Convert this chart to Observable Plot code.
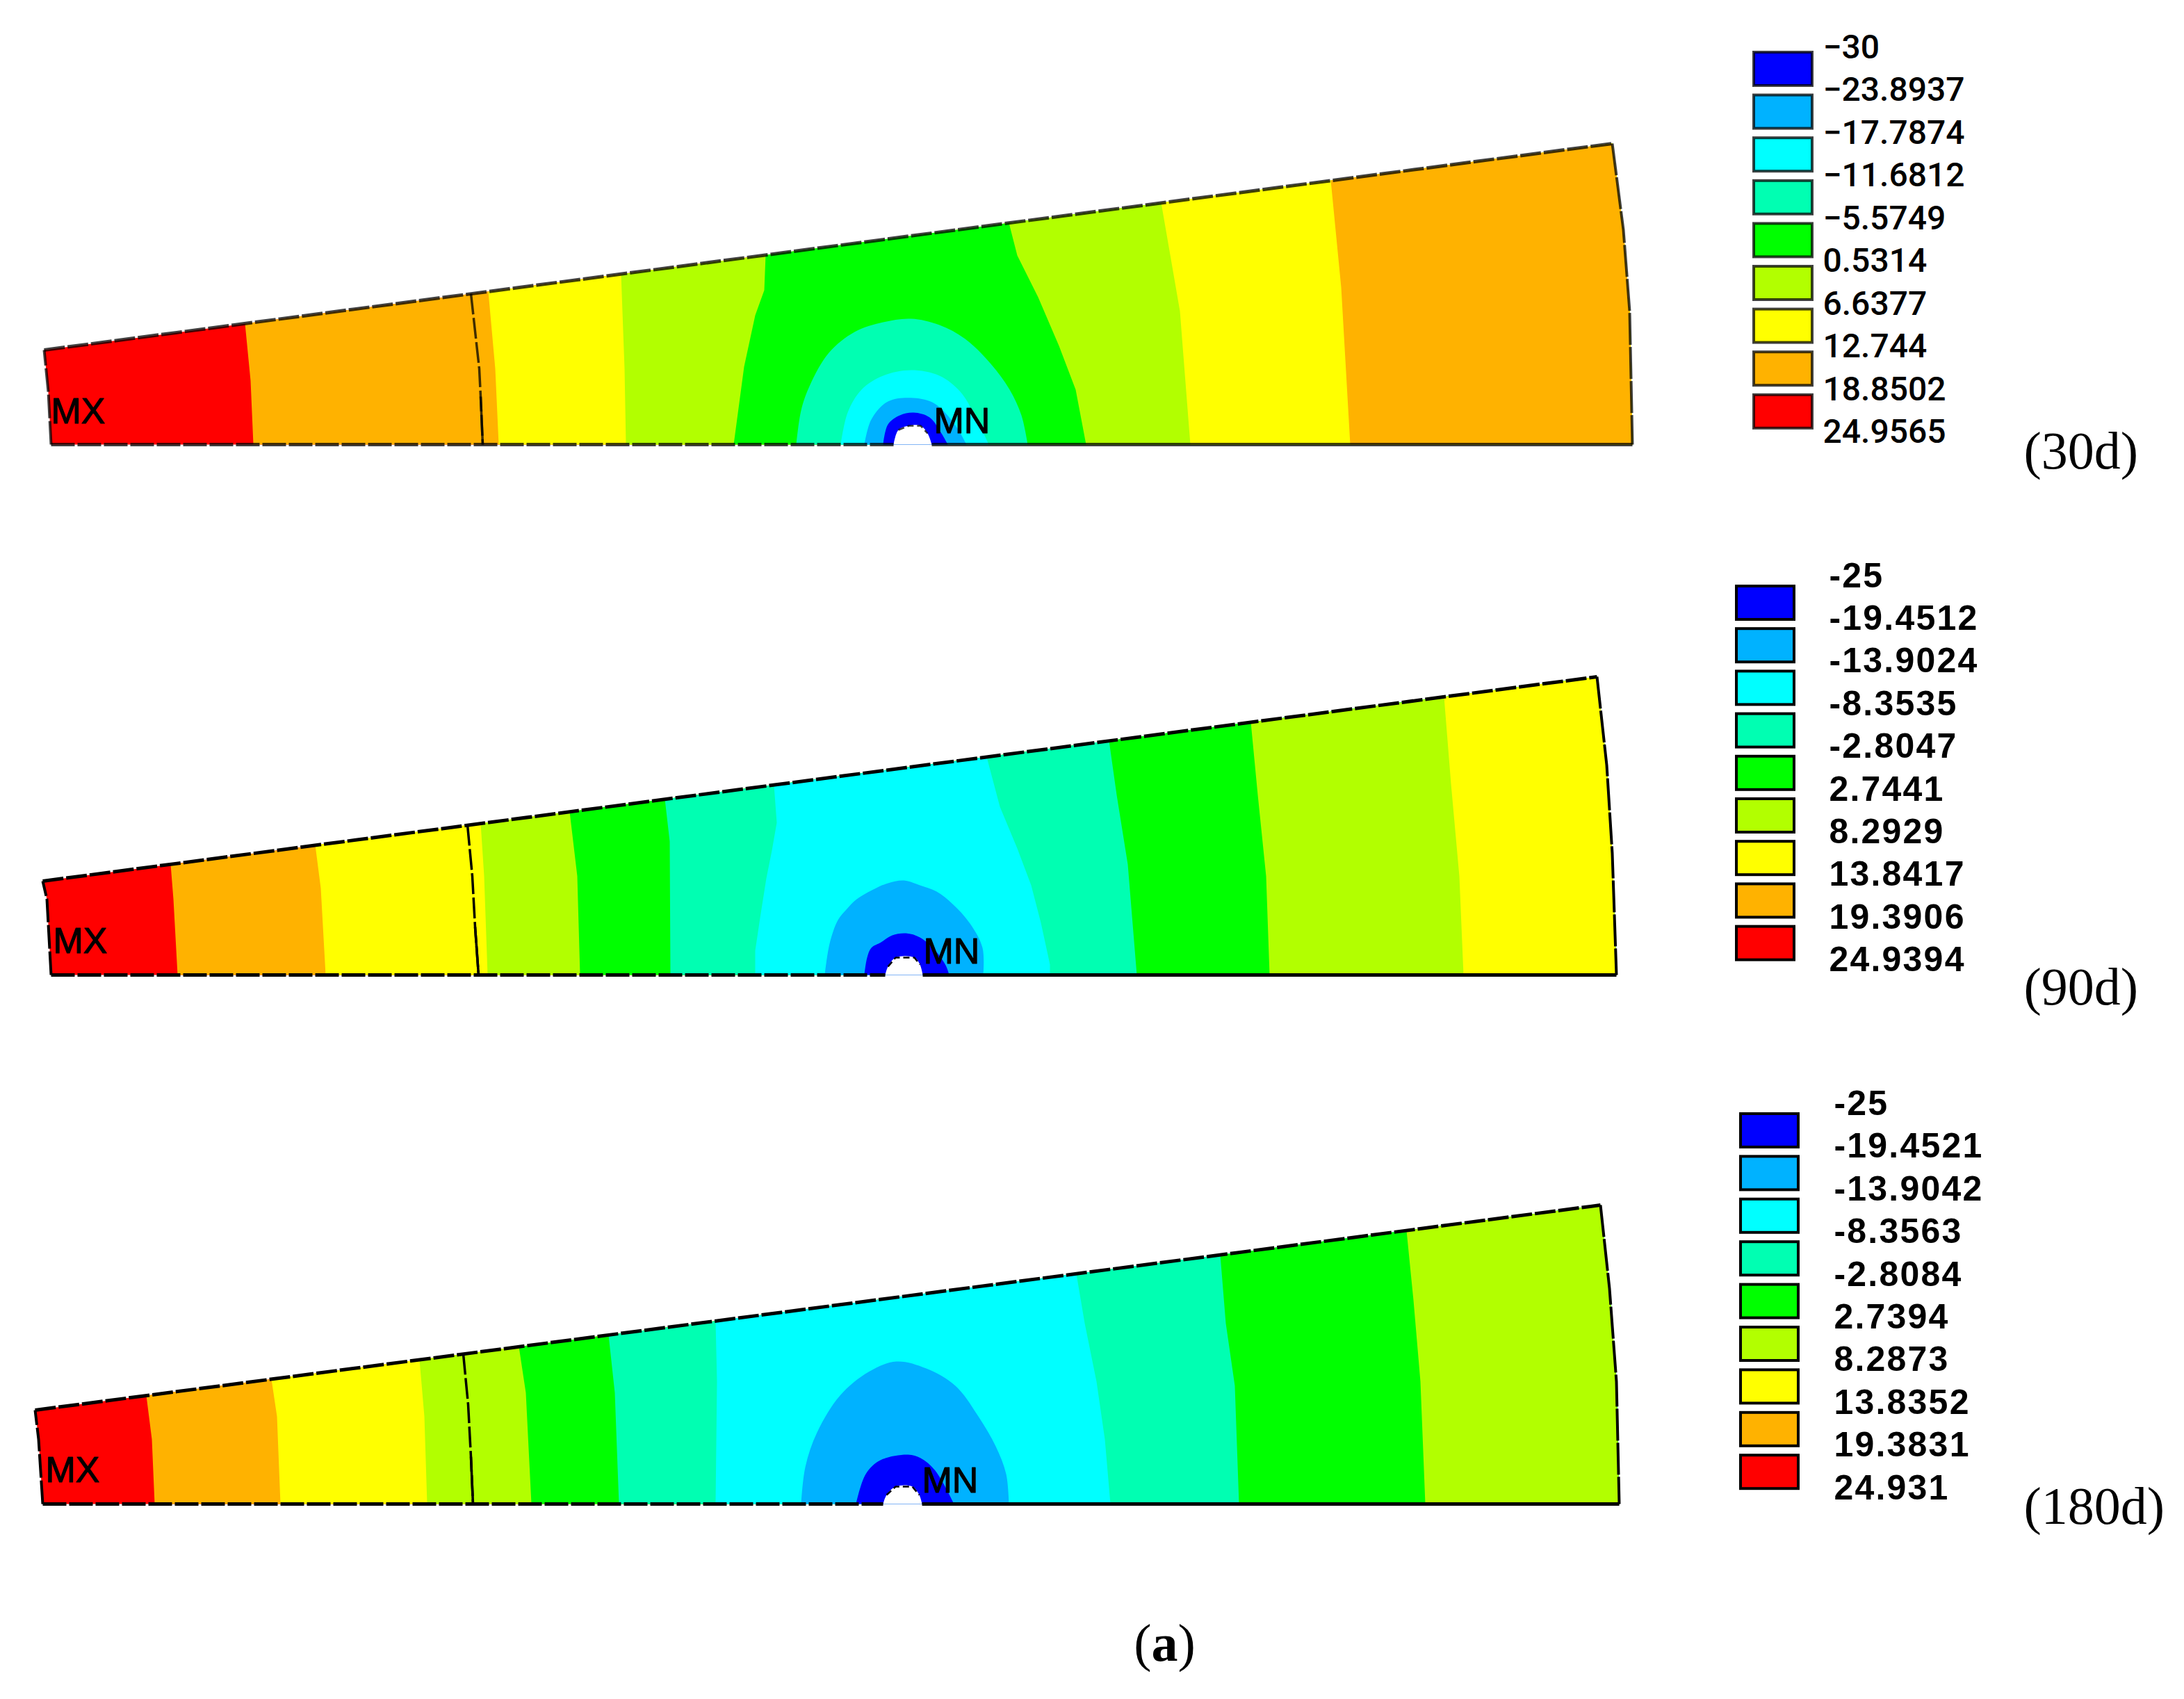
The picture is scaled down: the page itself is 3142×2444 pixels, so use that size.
<!DOCTYPE html>
<html>
<head>
<meta charset="utf-8">
<style>html,body{margin:0;padding:0;background:#fff;overflow:hidden}svg{display:block;max-width:none!important}</style>
<script src="https://cdn.jsdelivr.net/npm/d3@7"></script>
<script src="https://cdn.jsdelivr.net/npm/@observablehq/plot@0.6"></script>
</head>
<body>
<div id="chart"></div>
<script>
// ANSYS contour colours, lowest band to highest
const palette = ["#0000ff","#00b2ff","#00ffff","#00ffb2","#00ff00","#b2ff00","#ffff00","#ffb200","#ff0000"];

const labels30  = ["−30","−23.8937","−17.7874","−11.6812","−5.5749","0.5314","6.6377","12.744","18.8502","24.9565"];
const labels90  = ["-25","-19.4512","-13.9024","-8.3535","-2.8047","2.7441","8.2929","13.8417","19.3906","24.9394"];
const labels180 = ["-25","-19.4521","-13.9042","-8.3563","-2.8084","2.7394","8.2873","13.8352","19.3831","24.931"];

// Beam edges: left edge bottom to top, right edge top to bottom
const leftEdge30   = [[73,639],[69,563],[63,503]];
const rightEdge30  = [[2319,206],[2335,330],[2344,447],[2348,639]];
const leftEdge90   = [[73,1402],[67,1293],[61,1267]];
const rightEdge90  = [[2297,973],[2311,1100],[2319,1227],[2325,1402]];
const leftEdge180  = [[61,2163],[55,2070],[50,2028]];
const rightEdge180 = [[2302,1733],[2315,1853],[2325,1987],[2329,2163]];

// Contour boundaries from left to right: each band fills everything to its right
const bands30 = [
  [7,[[352,465],[360,547],[364,639]]],
  [6,[[702,419],[712,530],[717,639]]],
  [5,[[893,394],[898,530],[900,639]]],
  [4,[[1101,366.3],[1099,417],[1086,453],[1070,527],[1055,639]]],
  [5,[[1451,320.3],[1463,367],[1493,427],[1523,497],[1547,560],[1562,639]]],
  [6,[[1670,291],[1697,447],[1712,639]]],
  [7,[[1914,259],[1929,413],[1942,639]]]
];
const bands90 = [
  [7,[[245,1243],[249,1293],[255,1402]]],
  [6,[[453,1215],[461,1277],[468,1402]]],
  [5,[[691,1184],[696,1260],[701,1402]]],
  [4,[[819,1167],[830,1260],[834,1402]]],
  [3,[[956,1149],[963,1210],[964,1402]]],
  [2,[[1113,1129],[1117,1183],[1110,1223],[1102,1263],[1093,1320],[1086,1367],[1086,1402]]],
  [3,[[1419,1088.4],[1438,1160],[1463,1220],[1483,1273],[1497,1327],[1510,1387],[1510,1402]]],
  [4,[[1595,1065],[1606,1143],[1622,1243],[1635,1402]]],
  [5,[[1799,1038.5],[1809,1143],[1821,1260],[1826,1402]]],
  [6,[[2077,1002],[2087,1127],[2099,1260],[2105,1402]]]
];
const bands180 = [
  [7,[[210,2007],[218,2070],[222,2163]]],
  [6,[[390,1983.5],[398,2037],[403,2163]]],
  [5,[[603,1955.6],[610,2037],[614,2163]]],
  [4,[[746,1936.8],[756,2003],[764,2163]]],
  [3,[[875,1920],[884,2003],[890,2163]]],
  [2,[[1029,1899.8],[1031,1987],[1029,2163]]],
  [3,[[1548,1832],[1560,1903],[1577,1987],[1589,2070],[1597,2163]]],
  [4,[[1755,1804.7],[1763,1903],[1776,1993],[1782,2163]]],
  [5,[[2023,1769.6],[2033,1870],[2043,1987],[2050,2163]]]
];

// Closed contours around the hole, outermost first; the fill closes along the base
const arcs30 = [
  [3,[[1145,639],[1152,590],[1165,553],[1192,507],[1229,477],[1270,463],[1310,458],[1351,467],[1388,487],[1425,523],[1452,560],[1469,597],[1478,639]]],
  [2,[[1209,639],[1219,593],[1239,560],[1270,540],[1310,532],[1351,540],[1381,563],[1402,597],[1422,639]]],
  [1,[[1243,639],[1253,603],[1277,577],[1314,572],[1344,580],[1373,610],[1390,639]]],
  [0,[[1270,639],[1277,610],[1294,597],[1314,593],[1337,600],[1354,623],[1363,639]]]
];
const arcs90 = [
  [1,[[1186,1402],[1193,1357],[1205,1323],[1217,1308],[1232,1293],[1258,1278],[1277,1270],[1300,1266],[1323,1273],[1347,1282],[1370,1300],[1395,1328],[1413,1363],[1414,1402]]],
  [0,[[1243,1402],[1247,1377],[1253,1363],[1267,1355],[1283,1345],[1303,1342],[1323,1348],[1345,1367],[1360,1388],[1365,1402]]]
];
const arcs180 = [
  [1,[[1152,2163],[1158,2110],[1175,2060],[1208,2007],[1249,1973],[1289,1958],[1332,1968],[1374,1993],[1407,2037],[1432,2080],[1447,2120],[1451,2163]]],
  [0,[[1231,2163],[1245,2120],[1266,2100],[1306,2092],[1324,2097],[1345,2115],[1372,2163]]]
];

// The central hole
const hole30  = [[1285,639],[1292,618],[1307,612],[1324,612],[1334,623],[1340,639]];
const hole90  = [[1273,1402],[1277,1390],[1288,1377],[1315,1377],[1323,1387],[1327,1402]];
const hole180 = [[1270,2163],[1275,2150],[1288,2138],[1312,2138],[1322,2150],[1326,2163]];

// Material interface line running through each beam
const seam30  = [[677,422],[689,530],[691,570],[694,639]];
const seam90  = [[672,1186],[679,1260],[683,1333],[688,1402]];
const seam180 = [[666,1947],[673,2020],[677,2095],[680,2163]];

const panels = [
  {id:"30d",  labels:labels30,  left:leftEdge30,  right:rightEdge30,  bands:bands30,  arcs:arcs30,  hole:hole30,  seam:seam30,
   swX:[2523,2607], swY:75,  swStep:61.6, lbX:2622, lbY:68,   lbStep:61.5, font:"Roboto", weight:500, size:48, spacing:0,
   mx:[73,592], mn:[1343,606], tag:"(30d)", tagY:649, edge:0.75},
  {id:"90d",  labels:labels90,  left:leftEdge90,  right:rightEdge90,  bands:bands90,  arcs:arcs90,  hole:hole90,  seam:seam90,
   swX:[2498,2581], swY:843, swStep:61.2, lbX:2631, lbY:828,  lbStep:61.4, font:"Liberation Sans", weight:700, size:50, spacing:2.2,
   mx:[76,1354], mn:[1328,1369], tag:"(90d)", tagY:1420, edge:1},
  {id:"180d", labels:labels180, left:leftEdge180, right:rightEdge180, bands:bands180, arcs:arcs180, hole:hole180, seam:seam180,
   swX:[2504,2587], swY:1602, swStep:61.4, lbX:2638, lbY:1587.5, lbStep:61.4, font:"Liberation Sans", weight:700, size:50, spacing:2.2,
   mx:[65,2115], mn:[1326,2130], tag:"(180d)", tagY:2167, edge:1}
];

const toRows = (id, level, pts) => pts.map(([x, y]) => ({id, level, x, y}));
const fillRows = [], arcRows = [];
for (const p of panels) {
  fillRows.push(...toRows(p.id + "-base", 8, [...p.left, ...p.right]));
  p.bands.forEach(([level, pts], i) => {
    // boundary top to bottom, then back up along the right edge
    fillRows.push(...toRows(`${p.id}-b${i}`, level, [...pts, ...[...p.right].reverse()]));
  });
  p.arcs.forEach(([level, pts], i) => arcRows.push(...toRows(`${p.id}-a${i}`, level, pts)));
}
const holeRows = panels.flatMap(p => toRows(p.id, 0, p.hole));

const edgeMarks = panels.flatMap(p => {
  const h = p.hole, base0 = p.left[0], base1 = p.right[p.right.length - 1];
  const line = (pts, dash, w) => Plot.line(pts, {x: d => d[0], y: d => d[1], stroke: "#000", strokeWidth: w,
    strokeDasharray: dash, strokeLinecap: "butt", strokeLinejoin: "miter", strokeOpacity: p.edge});
  return [
    line([p.left[p.left.length - 1], p.right[0]], "30,4", 5), // top edge
    line(p.left, "34,4", 4),                       // left edge
    line(p.right, "46,3", 4),                      // right edge
    line([base0, h[0]], "34,4", 5),                // base, left of the hole
    line([h[h.length - 1], base1], null, 5),       // base, right of the hole
    line(p.seam, "30,5", 3.5),                     // interface, dashed upper run
    line(p.seam.slice(-2), null, 3.5),             // interface, solid lower run
    line(h.slice(1, -1), "9,5", 2.5)               // rim of the hole
  ];
});

const spaced = s => (index, scales, values, dims, ctx, next) => {
  const g = next(index, scales, values, dims, ctx);
  d3.select(g).selectAll("text").style("letter-spacing", s + "px");
  return g;
};

const legendMarks = panels.flatMap(p => [
  Plot.rect(d3.range(9), {
    x1: p.swX[0], x2: p.swX[1],
    y1: i => p.swY + i * p.swStep, y2: i => p.swY + i * p.swStep + 48,
    fill: i => i, stroke: "#000", strokeWidth: 4, strokeOpacity: p.edge
  }),
  Plot.text(p.labels, {
    x: p.lbX, y: (d, i) => p.lbY + i * p.lbStep, text: d => d,
    textAnchor: "start", fontFamily: p.font, fontWeight: p.weight, fontSize: p.size, fill: "#000",
    render: spaced(p.spacing)
  }),
  Plot.text(["MX"], {x: p.mx[0], y: p.mx[1], text: d => d, textAnchor: "start", fontFamily: "Liberation Sans", fontSize: 52, fill: "#000", stroke: "#000", strokeWidth: 1.2}),
  Plot.text(["MN"], {x: p.mn[0], y: p.mn[1], text: d => d, textAnchor: "start", fontFamily: "Liberation Sans", fontSize: 52, fill: "#000", stroke: "#000", strokeWidth: 1.2}),
  Plot.text([p.tag], {x: 2911, y: p.tagY, text: d => d, textAnchor: "start", fontFamily: "Liberation Serif", fontSize: 76, fill: "#000"})
]);

const chart = Plot.plot({
  width: 3142, height: 2444, margin: 0,
  style: {background: "#fff", overflow: "visible"},
  x: {domain: [0, 3142], axis: null},
  y: {domain: [2444, 0], axis: null},
  color: {type: "ordinal", domain: d3.range(9), range: palette},
  marks: [
    Plot.line(fillRows, {x: "x", y: "y", z: "id", fill: "level", stroke: null, curve: "linear-closed"}),
    Plot.line(arcRows, {x: "x", y: "y", z: "id", fill: "level", stroke: null, curve: "catmull-rom"}),
    Plot.line(holeRows, {x: "x", y: "y", z: "id", fill: "#fff", stroke: null, curve: "catmull-rom"}),
    ...edgeMarks,
    ...legendMarks,
    Plot.text(["(a)"], {x: 1675, y: 2364, text: d => d, fontFamily: "Liberation Serif", fontSize: 76, fill: "#000",
      render(index, scales, values, dims, ctx, next) {
        const g = next(index, scales, values, dims, ctx);
        d3.select(g).selectAll("text").html('(<tspan font-weight="700">a</tspan>)');
        return g;
      }})
  ]
});
document.getElementById("chart").append(chart);
</script>
</body>
</html>
